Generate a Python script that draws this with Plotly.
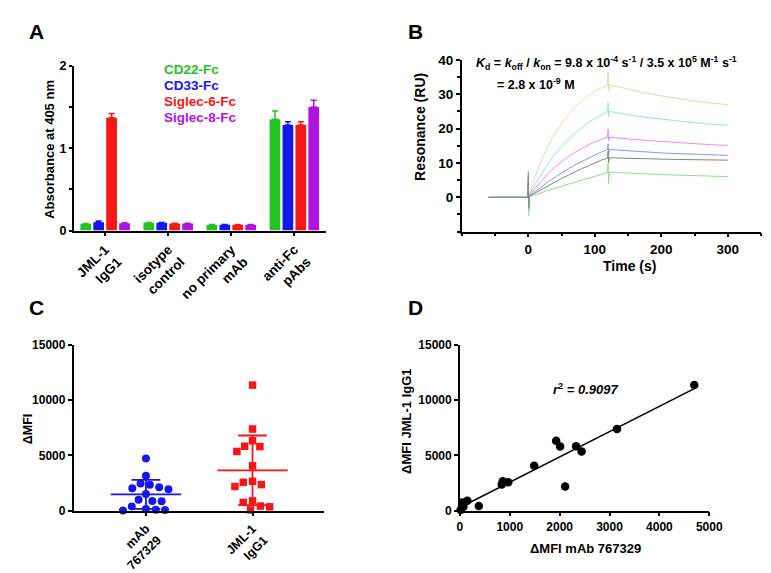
import numpy as np
import plotly.graph_objects as go

W, H = 771, 573
FONT = "Arial, Liberation Sans, sans-serif"

# ---------------- Panel A : ELISA ----------------
elisa_groups = ["JML-1<br>IgG1", "isotype<br>control", "no primary<br>mAb", "anti-Fc<br>pAbs"]
elisa_series = ["CD22-Fc", "CD33-Fc", "Siglec-6-Fc", "Siglec-8-Fc"]
cd22_fc = [0.083, 0.095, 0.070, 1.35]
cd22_err = [0.004, 0.004, 0.003, 0.10]
cd33_fc = [0.100, 0.095, 0.070, 1.28]
cd33_err = [0.015, 0.004, 0.003, 0.04]
siglec6_fc = [1.37, 0.087, 0.070, 1.28]
siglec6_err = [0.05, 0.003, 0.003, 0.04]
siglec8_fc = [0.090, 0.087, 0.070, 1.50]
siglec8_err = [0.005, 0.003, 0.003, 0.08]
a_ticks = [0, 1, 2]

# ---------------- Panel B : SPR sensorgrams ----------------
spr_time = [-60, -30, -1, 0, 0.6, 1.2, 10, 20, 30, 40, 50, 60, 70, 80, 90, 100, 110,
            119, 120, 120.6, 122, 130, 150, 175, 200, 225, 250, 275, 300]
spr_orange = [0, 0, 0, 3, -2, 0.5, 6.0, 11.0, 15.0, 18.5, 21.5, 24.0, 26.3, 28.0, 29.6, 30.9, 31.9,
              32.5, 36.5, 31.0, 32.8, 32.4, 31.5, 30.4, 29.5, 28.7, 28.0, 27.4, 27.0]
spr_cyan = [0, 0, 0, 5, -5.5, 0.5, 3.7, 7.0, 9.9, 12.5, 14.8, 16.8, 18.6, 20.2, 21.7, 22.9, 24.0,
            24.9, 27.8, 23.5, 25.0, 24.7, 24.0, 23.3, 22.7, 22.2, 21.7, 21.3, 21.0]
spr_magenta = [0, 0, 0, 4, -3, 0.4, 2.6, 4.9, 7.0, 8.8, 10.4, 11.8, 13.1, 14.2, 15.2, 16.1, 16.9,
               17.5, 19.8, 16.5, 17.5, 17.3, 17.0, 16.6, 16.2, 15.9, 15.6, 15.3, 15.1]
spr_blue = [0, 0, 0, 7.5, -4, 0.3, 1.6, 3.1, 4.5, 5.8, 7.1, 8.3, 9.4, 10.4, 11.4, 12.3, 13.2,
            13.9, 15.6, 12.3, 14.0, 13.8, 13.5, 13.2, 12.9, 12.7, 12.5, 12.3, 12.2]
spr_gray = [0, 0, 0, 6, -3, 0.3, 1.2, 2.3, 3.4, 4.5, 5.5, 6.4, 7.4, 8.3, 9.1, 10.0, 10.8,
            11.4, 13.5, 10.0, 11.5, 11.45, 11.3, 11.2, 11.1, 11.0, 10.9, 10.85, 10.8]
spr_green = [0, 0, 0, 2, -4, 0.2, 0.7, 1.4, 2.0, 2.6, 3.2, 3.8, 4.4, 5.0, 5.6, 6.2, 6.7,
             7.2, 10.0, 4.0, 7.3, 7.2, 7.0, 6.8, 6.6, 6.4, 6.25, 6.1, 6.0]
b_xticks = [0, 100, 200, 300]
b_yticks = [0, 10, 20, 30, 40]

# ---------------- Panels C / D : flow cytometry ----------------
mfi_groups = ["mAb<br>767329", "JML-1<br>IgG1"]
mfi_mab767329 = [4700, 3150, 1930, 2010, 2330, 2440, 1490, 2110, 860, 970, 840, 150, 380, 50, 70, 15]
mfi_jml1 = [11350, 7380, 6320, 5790, 5820, 5350, 4050, 2180, 2650, 2560, 2350, 880, 410, 740, 340, 60]
mfi_ticks = [0, 5000, 10000, 15000]
d_xticks = [0, 1000, 2000, 3000, 4000, 5000]

# ---------------- styles ----------------
C_GREEN, C_BLUE, C_RED, C_PURPLE = "#22c422", "#1616ee", "#f51616", "#b012e0"
bar_colors = [C_GREEN, C_BLUE, C_RED, C_PURPLE]
spr_colors = ["#f4d3a2", "#8fe2ec", "#f585f5", "#9090ee", "#7c8c78", "#8ede8e"]

fig = go.Figure()

# Panel A bars
for name, vals, errs, col in zip(elisa_series, [cd22_fc, cd33_fc, siglec6_fc, siglec8_fc],
                                 [cd22_err, cd33_err, siglec6_err, siglec8_err], bar_colors):
    fig.add_trace(go.Bar(x=list(range(len(elisa_groups))), y=vals, name=name, marker_color=col,
                         marker_line_width=0,
                         error_y=dict(type="data", array=errs, arrayminus=[0] * len(errs),
                                      symmetric=False, color=col, thickness=1.5, width=3),
                         xaxis="x", yaxis="y", showlegend=False))

# Panel B sensorgrams
for vals, col in zip([spr_orange, spr_cyan, spr_magenta, spr_blue, spr_green, spr_gray],
                     [spr_colors[0], spr_colors[1], spr_colors[2], spr_colors[3], spr_colors[5], spr_colors[4]]):
    fig.add_trace(go.Scatter(x=spr_time, y=vals, mode="lines", line=dict(color=col, width=1),
                             xaxis="x2", yaxis="y2", showlegend=False))

# Panel C geometry for swarm
c_dom_x = [64 / W, 320 / W]
c_rng_x = [-0.679, 1.670]
cd_dom_y = [1 - 508 / H, 1 - 338 / H]
px_per_x = (c_dom_x[1] - c_dom_x[0]) * W / (c_rng_x[1] - c_rng_x[0])
px_per_y = (cd_dom_y[1] - cd_dom_y[0]) * H / 15000.0


def swarm(values, diam):
    vals = np.asarray(values, dtype=float)
    order = np.argsort(-vals)
    placed = []
    offs = np.zeros(len(vals))
    for i in order:
        y = vals[i] * px_per_y
        found = None
        for c in np.arange(0, 80, 0.5):
            for s in ([0.0] if c == 0 else [-c, c]):
                if all((s - px) ** 2 + (y - py) ** 2 >= diam ** 2 for px, py in placed):
                    found = s
                    break
            if found is not None:
                break
        placed.append((found, y))
        offs[i] = found / px_per_x
    return offs


for gi, (vals, col, sym) in enumerate([(mfi_mab767329, C_BLUE, "circle"), (mfi_jml1, C_RED, "square")]):
    offs = swarm(vals, 9.5)
    fig.add_trace(go.Scatter(x=gi + offs, y=vals, mode="markers",
                             marker=dict(symbol=sym, size=8 if sym == "circle" else 7.5, color=col,
                                         line=dict(width=0)),
                             cliponaxis=False, xaxis="x3", yaxis="y3", showlegend=False))
    m = float(np.mean(vals))
    sd = float(np.std(vals, ddof=1))
    lo = max(m - sd, 0)
    lx = [gi - 0.33, gi + 0.33, None, gi - 0.135, gi + 0.135, None, gi - 0.135, gi + 0.135, None, gi, gi]
    ly = [m, m, None, m + sd, m + sd, None, lo, lo, None, lo, m + sd]
    fig.add_trace(go.Scatter(x=lx, y=ly, mode="lines", line=dict(color=col, width=1.8),
                             xaxis="x3", yaxis="y3", showlegend=False, cliponaxis=False))

# Panel D correlation
xs = np.asarray(mfi_mab767329, float)
ys = np.asarray(mfi_jml1, float)
slope, intercept = np.polyfit(xs, ys, 1)
xl = np.array([0.0, xs.max()])
fig.add_trace(go.Scatter(x=xl, y=intercept + slope * xl, mode="lines", line=dict(color="black", width=1.5),
                         xaxis="x4", yaxis="y4", showlegend=False, cliponaxis=False))
fig.add_trace(go.Scatter(x=mfi_mab767329, y=mfi_jml1, mode="markers",
                         marker=dict(size=8.5, color="black"), cliponaxis=False,
                         xaxis="x4", yaxis="y4", showlegend=False))


def tf(size):
    return dict(family=FONT, size=size, color="black", weight="bold")


def ax(**kw):
    d = dict(showline=True, linecolor="black", linewidth=1.5, ticks="outside", ticklen=4,
             tickwidth=1.5, tickcolor="black", showgrid=False, zeroline=False,
             tickfont=tf(12.5))
    d.update(kw)
    return d


minor_style = dict(ticks="outside", ticklen=3, tickwidth=1.5, tickcolor="black")

fig.update_layout(
    width=W, height=H, margin=dict(l=0, r=0, t=0, b=0),
    paper_bgcolor="white", plot_bgcolor="white",
    barmode="group", bargap=0.18, bargroupgap=0.17,
    font=dict(family=FONT, color="black"),
    xaxis=ax(domain=[64 / W, 322 / W], range=[-0.5, 3.5], anchor="y",
             tickvals=list(range(4)), ticktext=elisa_groups, tickangle=-45, tickfont=tf(13.5)),
    yaxis=ax(domain=[1 - 221 / H, 1 - 52 / H], range=[0, 2], anchor="x",
             tickvals=a_ticks, ticktext=[str(v) for v in a_ticks],
             ticklen=3, minor=dict(dtick=0.5, **minor_style)),
    xaxis2=ax(domain=[461 / W, 767 / W], range=[-100, 350], anchor="y2",
              tickvals=b_xticks, ticktext=[str(v) for v in b_xticks],
              minor=dict(dtick=50, **minor_style), tickfont=tf(13.5)),
    yaxis2=ax(domain=[1 - 222 / H, 1 - 46 / H], range=[-10, 40], anchor="x2",
              tickvals=b_yticks, ticktext=[str(v) for v in b_yticks],
              minor=dict(dtick=5, **minor_style), tickfont=tf(13.5)),
    xaxis3=ax(domain=c_dom_x, range=c_rng_x, anchor="y3", tickvals=[0, 1], ticktext=mfi_groups,
              tickangle=-45, tickfont=tf(12.5)),
    yaxis3=ax(domain=cd_dom_y, range=[0, 15000], anchor="x3",
              tickvals=mfi_ticks, ticktext=[str(v) for v in mfi_ticks], tickfont=tf(12)),
    xaxis4=ax(domain=[459 / W, 714 / W], range=[0, 5000], anchor="y4",
              tickvals=d_xticks, ticktext=[str(v) for v in d_xticks], tickfont=tf(12)),
    yaxis4=ax(domain=cd_dom_y, range=[0, 15000], anchor="x4",
              tickvals=mfi_ticks, ticktext=[str(v) for v in mfi_ticks], tickfont=tf(12)),
)


def px_ann(text, x, y, size=13, xanchor="center", yanchor="middle", angle=0, color="black"):
    fig.add_annotation(text=text, x=x / W, y=1 - y / H, xref="paper", yref="paper",
                       xanchor=xanchor, yanchor=yanchor, textangle=angle, showarrow=False,
                       borderpad=0,
                       font=dict(family=FONT, size=size, color=color, weight="bold"))


# panel letters
for letter, (x, y) in zip("ABCD", [(26, 17), (414, 17), (26, 300), (414, 300)]):
    px_ann(letter, x, y, size=21)

# Panel A legend (coloured text)
for i, (name, col) in enumerate(zip(elisa_series, bar_colors)):
    px_ann(name, 155, 56 + i * 16.3, size=13.5, xanchor="left", color=col)

# axis titles
px_ann("Absorbance at 405 nm", 39, 138, size=13, angle=-90)
px_ann("Resonance (RU)", 418, 115, size=14, angle=-90)
px_ann("Time (s)", 632, 257, size=14)
px_ann("ΔMFI", 17, 424, size=12.5, angle=-90)
px_ann("ΔMFI JML-1 IgG1", 405, 417, size=13, angle=-90)
px_ann("ΔMFI mAb 767329", 587, 547, size=13)

# Panel B equation
px_ann("<i>K</i><sub>d</sub> = <i>k</i><sub>off</sub> / <i>k</i><sub>on</sub> = 9.8 x 10<sup>-4</sup> s<sup>-1</sup>"
       " / 3.5 x 10<sup>5</sup> M<sup>-1</sup> s<sup>-1</sup>", 474, 49, size=12.5, xanchor="left")
px_ann("= 2.8 x 10<sup>-9</sup> M", 496, 71, size=12.5, xanchor="left")

# Panel D r²
px_ann("<i>r</i><sup>2</sup><i> = 0.9097</i>", 587, 383, size=13)

fig.write_html("out.html")
